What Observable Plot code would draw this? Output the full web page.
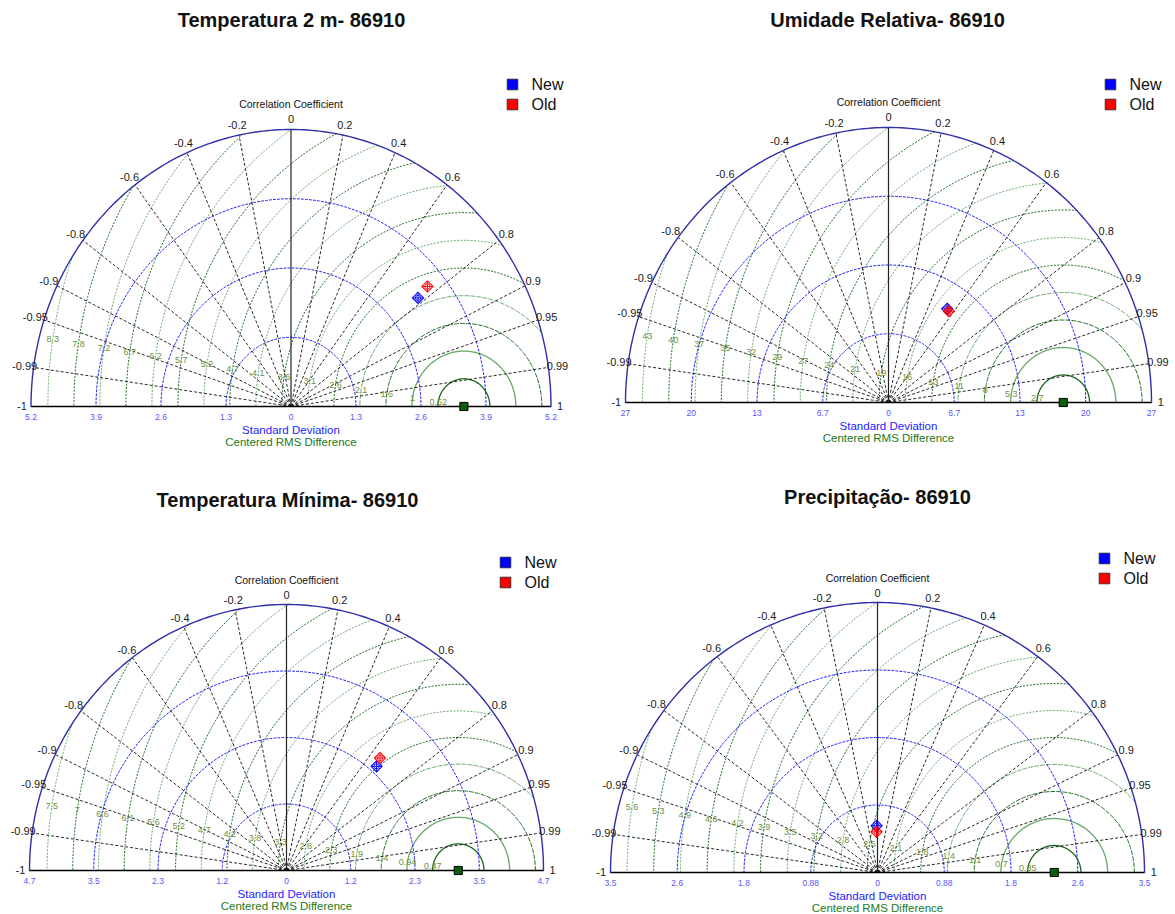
<!DOCTYPE html>
<html>
<head>
<meta charset="utf-8">
<script src="https://cdn.jsdelivr.net/npm/d3@7"></script>
<script src="https://cdn.jsdelivr.net/npm/@observablehq/plot@0.6"></script>
<style>
  body { margin: 0; background: #fff; }
  #grid { position: relative; width: 1175px; height: 914px; overflow: hidden; }
  .panel { position: absolute; }
</style>
</head>
<body>
<div id="grid"></div>
<script>
// Station 86910: four Taylor diagrams, "New" vs "Old" against the observed reference
const titles = ["Temperatura 2 m- 86910", "Umidade Relativa- 86910", "Temperatura Mínima- 86910", "Precipitação- 86910"];
const maxStd  = [5.173, 26.64, 4.698, 3.52];   // outer standard-deviation arc
const refStd  = [3.44, 17.7, 3.14, 2.33];      // observed (reference) standard deviation
const newStd  = [3.24, 10.85, 2.47, 0.61];
const newCorr = [0.780, 0.548, 0.667, -0.02];
const oldStd  = [3.52, 10.75, 2.62, 0.53];
const oldCorr = [0.771, 0.568, 0.652, -0.025];
const seriesNames  = ["New", "Old"];
const seriesColors = ["#0000ff", "#ff0000"];
const corrTicks = [-1, -0.99, -0.95, -0.9, -0.8, -0.6, -0.4, -0.2, 0, 0.2, 0.4, 0.6, 0.8, 0.9, 0.95, 0.99, 1];
const stdTickSteps = [-4, -3, -2, -1, 0, 1, 2, 3, 4];      // multiples of maxStd/4
const rmsSteps = d3.range(1, 17);                          // multiples of maxStd/10

// Layout of each panel (pixel frame of the half-disc, title and legend anchors)
const frames = [
  {left: 0,   top: 0,   w: 588, h: 457, cx: 290.5, cy: 406, rx: 260, ry: 277, titleX: 291, titleY: 20, legX: 512, legY: 84},
  {left: 588, top: 0,   w: 587, h: 457, cx: 300,   cy: 402, rx: 263, ry: 275, titleX: 299, titleY: 20, legX: 522, legY: 84},
  {left: 0,   top: 457, w: 588, h: 457, cx: 286,   cy: 413, rx: 257, ry: 266, titleX: 287, titleY: 43, legX: 505, legY: 105},
  {left: 588, top: 457, w: 587, h: 457, cx: 289,   cy: 415, rx: 267, ry: 270, titleX: 289, titleY: 40, legX: 516, legY: 101}
];

const FONT = "'Liberation Sans', Arial, Helvetica, sans-serif";
const fmt2 = d3.format(".2");
const labelAngle = 171.3 * Math.PI / 180;   // direction along which RMS contours are labelled

function arcPoints(cx, r, t0, t1, n = 200) {
  return d3.range(n + 1).map(i => {
    const t = t0 + (t1 - t0) * i / n;
    return [cx + r * Math.cos(t), r * Math.sin(t)];
  });
}

function taylorPanel(i) {
  const M = maxStd[i], ref = refStd[i], s = M / 10, f = frames[i];
  const toData = (X, Y) => [(X - f.cx) / f.rx * M, (f.cy - Y) / f.ry * M];
  const marks = [];

  // centred RMS difference contours around the reference point, kept inside the half-disc
  rmsSteps.forEach(k => {
    const rho = k * s;
    const c = (M * M - ref * ref - rho * rho) / (2 * ref * rho);
    if (c < -1) return;
    const t0 = Math.acos(Math.max(-1, Math.min(1, c)));
    const dash = k <= 2 ? null : k <= 4 ? "4,2" : "1.2,2.2";
    marks.push(Plot.line(arcPoints(ref, rho, t0, Math.PI), {
      stroke: k % 2 ? "#17691a" : "#69a869",
      strokeWidth: k <= 2 ? 1.3 : 1,
      strokeDasharray: dash
    }));
  });

  // standard deviation arcs
  [0.25, 0.5, 0.75].forEach(q => {
    marks.push(Plot.line(arcPoints(0, q * M, 0, Math.PI), {stroke: "#1f1fff", strokeWidth: 1, strokeDasharray: "2,2"}));
  });

  // correlation rays
  const rays = corrTicks.filter(c => Math.abs(c) < 1 && c !== 0);
  marks.push(Plot.link(rays, {
    x1: () => 0, y1: () => 0,
    x2: c => M * c, y2: c => M * Math.sqrt(1 - c * c),
    stroke: "#111", strokeWidth: 0.9, strokeDasharray: "3,2"
  }));
  marks.push(Plot.link([0], {x1: () => 0, y1: () => 0, x2: () => 0, y2: () => M, stroke: "#222", strokeWidth: 1.2}));
  marks.push(Plot.link([0], {x1: () => -M, y1: () => 0, x2: () => M, y2: () => 0, stroke: "#000", strokeWidth: 1.5}));
  marks.push(Plot.line(arcPoints(0, M, 0, Math.PI), {stroke: "#3030a8", strokeWidth: 1.4}));

  // correlation labels
  marks.push(Plot.text(corrTicks, {
    x: c => 1.035 * M * c, y: c => 1.035 * M * Math.sqrt(1 - c * c),
    text: c => String(c), fontSize: 11, fill: "#1a1a1a"
  }));
  marks.push(Plot.text(["Correlation Coefficient"], {x: () => 0, y: () => 1.09 * M, fontSize: 10.5, fill: "#111"}));

  // standard deviation tick labels and axis titles
  marks.push(Plot.text(stdTickSteps, {
    x: j => j * M / 4, y: () => 0, dy: 11,
    text: j => fmt2(Math.abs(j * M / 4)), fontSize: 8.5, fill: "#5656ff"
  }));
  marks.push(Plot.text(["Standard Deviation"], {x: () => 0, y: () => 0, dy: 24, fontSize: 11.5, fill: "#2323ff"}));
  marks.push(Plot.text(["Centered RMS Difference"], {x: () => 0, y: () => 0, dy: 36, fontSize: 11.5, fill: "#227a22"}));

  // RMS contour labels
  marks.push(Plot.text(rmsSteps, {
    x: k => ref + k * s * Math.cos(labelAngle), y: k => k * s * Math.sin(labelAngle),
    text: k => fmt2(k * s), fontSize: 9, fill: "#6f8f38"
  }));

  // reference point
  marks.push(Plot.dot([ref], {x: d => d, y: () => 0, symbol: "square", r: 4.6, fill: "#0b5e0b", stroke: "#000", strokeWidth: 1}));

  // model points
  const pts = [
    {name: "New", color: seriesColors[0], sd: newStd[i], r: newCorr[i]},
    {name: "Old", color: seriesColors[1], sd: oldStd[i], r: oldCorr[i]}
  ];
  pts.forEach(p => {
    const x = p.sd * p.r, y = p.sd * Math.sqrt(1 - p.r * p.r);
    marks.push(Plot.dot([p], {x: () => x, y: () => y, symbol: "diamond2", r: 5, fill: "none", stroke: p.color, strokeWidth: 1.1}));
    marks.push(Plot.dot([p], {x: () => x, y: () => y, symbol: "circle", r: 2.6, fill: "none", stroke: p.color, strokeWidth: 0.9}));
    marks.push(Plot.dot([p], {x: () => x, y: () => y, symbol: "plus", r: 3.4, stroke: p.color, strokeWidth: 1}));
  });

  // legend
  seriesNames.forEach((name, j) => {
    const [sx, sy] = toData(f.legX, f.legY + 20 * j);
    const [tx, ty] = toData(f.legX + 19, f.legY + 20 * j);
    marks.push(Plot.dot([name], {x: () => sx, y: () => sy, symbol: "square", r: 6, fill: seriesColors[j], stroke: "#222", strokeWidth: 0.8}));
    marks.push(Plot.text([name], {x: () => tx, y: () => ty, text: d => d, textAnchor: "start", fontSize: 16, fill: "#111"}));
  });

  // title
  const [hx, hy] = toData(f.titleX, f.titleY);
  marks.push(Plot.text([titles[i]], {x: () => hx, y: () => hy, text: d => d, fontSize: 20, fontWeight: "bold", fill: "#111"}));

  return Plot.plot({
    width: f.w, height: f.h,
    marginTop: 0, marginRight: 0, marginBottom: 0, marginLeft: 0,
    x: {domain: [-M, M], range: [f.cx - f.rx, f.cx + f.rx], axis: null},
    y: {domain: [0, M], range: [f.cy, f.cy - f.ry], axis: null},
    style: {fontFamily: FONT, background: "#fff", overflow: "visible"},
    marks
  });
}

const grid = document.getElementById("grid");
titles.forEach((t, i) => {
  const f = frames[i];
  const div = document.createElement("div");
  div.className = "panel";
  div.style.left = f.left + "px";
  div.style.top = f.top + "px";
  div.appendChild(taylorPanel(i));
  grid.appendChild(div);
});
</script>
</body>
</html>
